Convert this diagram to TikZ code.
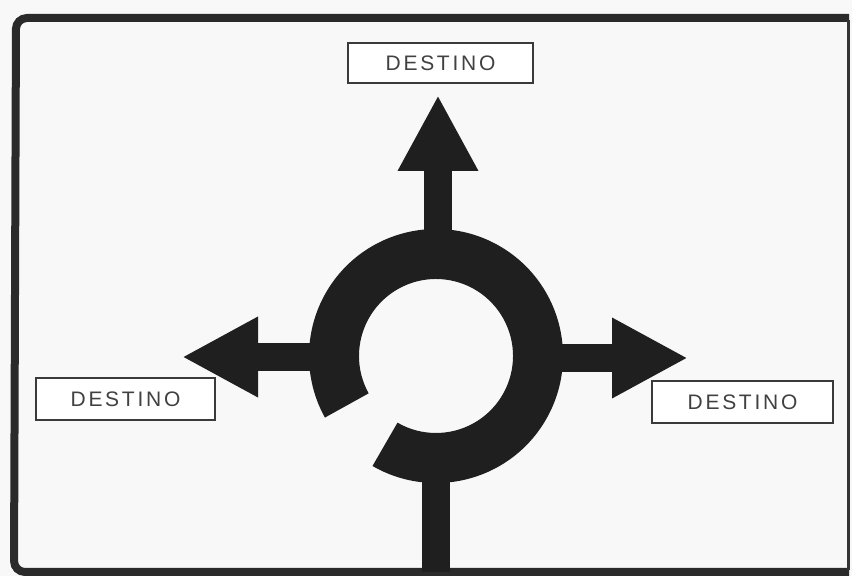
\documentclass[tikz,border=0pt]{standalone}
\usepackage{fontspec}
\setmainfont{Liberation Sans}
\newfontfamily\signfont[LetterSpace=13]{Liberation Sans}
\usetikzlibrary{arrows.meta,calc}
\definecolor{ink}{HTML}{1F1F1F}
\definecolor{paper}{HTML}{F8F8F8}
\definecolor{boxline}{HTML}{3A3A3A}
\tikzset{
  sign/.style={draw=boxline, line width=1.3pt, fill=white, inner sep=0pt,
    font=\signfont\fontsize{21}{21}\selectfont, text=ink!85},
  road/.style={draw=ink, line width=28pt},
  roadarrow/.style={road, -{Triangle[length=76pt,width=75pt]}},
  frame/.style={draw=ink!95, line width=8pt, rounded corners=11pt}
}
\begin{document}
\begin{tikzpicture}[x=1pt,y=1pt]
  \useasboundingbox (0,0) rectangle (852,576);
  \fill[paper] (0,0) rectangle (852,576);
  % frame
  \draw[frame] (849,558) -- (16,558) -- (14,4) -- (849,4);
  \draw[ink!90, line width=3pt] (848,556) -- (848,6);
  % roundabout
  \coordinate (c) at (436,220);
  \fill[ink] ($(c)+(240:127)$) arc[start angle=240,end angle=569,radius=127]
     -- ($(c)+(569:77)$) arc[start angle=569,end angle=240,radius=77] -- cycle;
  % exits
  \coordinate (ntop) at (438,320);
  \coordinate (tiptop) at (438,481);
  \coordinate (nleft) at (336,219);
  \coordinate (tipleft) at (182,219);
  \coordinate (nright) at (536,218);
  \coordinate (tipright) at (688,218);
  \coordinate (nbot) at (436,120);
  \coordinate (bot) at (436,4);
  \draw[roadarrow] (ntop) -- (tiptop);
  \draw[roadarrow] (nleft) -- (tipleft);
  \draw[roadarrow] (nright) -- (tipright);
  \draw[road] (nbot) -- (bot);
  % labels
  \node[sign, minimum width=185pt, minimum height=40pt] (dtop) at (440.5,513) {DESTINO};
  \node[sign, minimum width=179pt, minimum height=42pt] (dleft) at (125.5,177) {DESTINO};
  \node[sign, minimum width=181pt, minimum height=42pt] (dright) at (742.5,174) {DESTINO};
\end{tikzpicture}
\end{document}
